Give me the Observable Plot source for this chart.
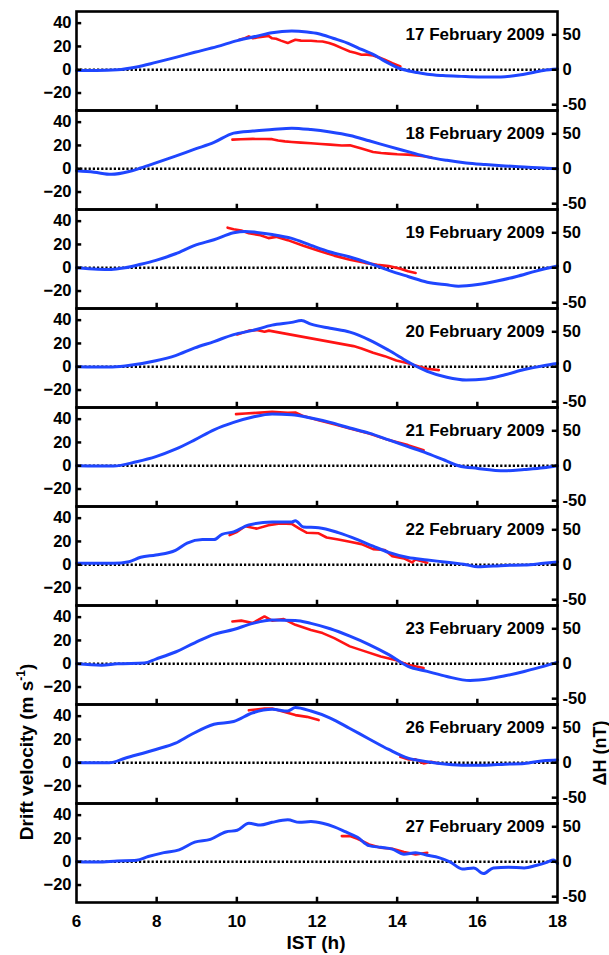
<!DOCTYPE html>
<html><head><meta charset="utf-8">
<script src="https://cdn.jsdelivr.net/npm/d3@7"></script>
<script src="https://cdn.jsdelivr.net/npm/@observablehq/plot@0.6"></script>
<style>body{margin:0;background:#fff}</style>
</head><body><div id="chart"></div>
<script>
// Panel labels
const days = ["17 February 2009","18 February 2009","19 February 2009","20 February 2009","21 February 2009","22 February 2009","23 February 2009","26 February 2009","27 February 2009"];

// ΔH (nT) series, [IST hour, nT]
const dH17 = [[6.00,-1],[6.5,-1],[7.02,0],[7.5,4],[7.98,10.5],[8.5,18],[8.95,25],[9.5,33],[10.01,41.7],[10.5,48],[10.88,53],[11.37,55.4],[11.75,54],[12.04,51.5],[12.4,45],[12.82,36.8],[13.11,29],[13.40,22],[13.7,12],[14.03,2.5],[14.17,0],[14.5,-4],[14.75,-6.4],[15.14,-8.3],[15.6,-9.5],[16.03,-10.3],[16.59,-10.3],[17.17,-6.4],[17.65,-1],[18.0,1]];
const dH18 = [[6.0,-3],[6.44,-5],[6.87,-8],[7.31,-4],[7.6,1],[7.98,8.3],[8.47,18],[8.95,28],[9.43,37.7],[9.92,51],[10.40,54],[10.88,56],[11.37,58],[11.85,56],[12.33,52.5],[12.82,47.5],[13.30,40],[13.79,32],[14.27,24.5],[14.75,17],[15.24,12],[15.72,8.3],[16.20,6],[16.69,4],[17.17,2.5],[17.65,1],[18.0,0]];
const dH19 = [[6.0,0],[6.53,-2],[6.87,-2.4],[7.21,0],[7.6,5],[7.98,10.6],[8.47,20],[8.95,32],[9.43,40],[9.92,50],[10.21,52],[10.5,50.5],[10.88,47.6],[11.37,42],[11.85,32],[12.33,22.6],[12.82,15.4],[13.30,6.7],[13.79,-3.8],[14.27,-12.5],[14.75,-20.7],[15.24,-24.5],[15.53,-26.4],[16.01,-24],[16.49,-19],[16.98,-12.5],[17.46,-4.8],[18.0,2.4]];
const dH20 = [[6.0,0],[6.82,-0.5],[7.21,1],[7.98,8.5],[8.47,16],[8.95,27],[9.43,36],[9.92,46],[10.40,52],[10.88,59.5],[11.37,63.5],[11.61,66],[11.85,61],[12.33,55],[12.82,49.5],[13.30,38.5],[13.79,23.5],[14.27,7],[14.46,1],[14.75,-6.5],[15.24,-15],[15.72,-19],[16.20,-17.5],[16.69,-11.5],[17.17,-4],[17.65,1.5],[18.0,4.5]];
const dH21 = [[6.0,0],[6.92,-0.5],[7.50,5.8],[7.98,13],[8.47,23.6],[8.95,37],[9.43,51.4],[9.92,62],[10.40,69.7],[10.88,74],[11.37,73],[11.85,68.3],[12.33,62],[12.82,54],[13.30,46.6],[13.79,37],[14.27,27.4],[14.75,17.8],[15.24,6.7],[15.53,0],[16.01,-3.8],[16.69,-7.2],[17.17,-5.3],[17.65,-2.9],[18.0,0]];
const dH22 = [[6.0,2],[6.92,2],[7.31,4.4],[7.60,10.8],[7.98,14],[8.47,20.6],[8.76,31],[9.14,36],[9.43,36],[9.63,43.6],[9.92,47],[10.30,57],[10.88,61],[11.37,61],[11.46,63],[11.66,54],[12.04,53],[12.53,46],[13.01,36],[13.40,26.5],[13.79,17.6],[14.27,10.3],[14.75,6.9],[15.24,3.4],[15.72,0],[16.01,-3],[16.69,-1],[17.17,-0.5],[17.65,2],[18.0,4]];
const dH23 = [[6.0,0],[6.63,-2],[7.02,0],[7.69,1],[7.98,6.7],[8.47,16.8],[8.95,30],[9.43,42],[9.92,49],[10.40,57.7],[10.88,62.5],[11.46,62],[11.85,57.7],[12.33,50],[12.82,39.4],[13.30,27.4],[13.79,13],[14.27,-3.8],[14.75,-11],[15.24,-18.3],[15.82,-24],[16.30,-21.6],[16.69,-17.3],[17.17,-11],[17.65,-3.8],[18.0,2.4]];
const dH26 = [[6.0,0],[6.82,0],[7.21,6.5],[7.98,19],[8.47,28],[8.85,40],[9.43,55],[9.92,59],[10.40,71.5],[10.88,76.5],[11.27,74],[11.46,79],[11.85,74],[12.33,64],[12.82,49],[13.30,34],[13.79,19],[14.27,6.5],[14.75,1.5],[15.24,-2],[15.72,-3.5],[16.20,-3.5],[16.69,-2],[17.17,-1],[17.65,3],[18.0,4]];
const dH27 = [[6.0,0],[6.53,-0.5],[7.02,1],[7.50,2],[7.79,7.4],[8.18,13],[8.56,17],[8.95,28],[9.34,32],[9.72,42.6],[10.01,45],[10.30,55],[10.59,52.5],[10.88,56.4],[11.27,60],[11.56,56.4],[11.85,57.4],[12.14,55],[12.43,50],[12.72,42.6],[13.01,35],[13.30,23],[13.59,20.6],[13.88,18],[14.17,10.8],[14.46,13],[14.75,9.3],[15.04,5.9],[15.33,-0.5],[15.62,-10.3],[15.91,-8.8],[16.15,-17],[16.40,-8.8],[16.78,-7.8],[17.17,-8.8],[17.46,-5.4],[17.75,-0.5],[17.90,2.5],[18.0,-2.5]];

// Drift velocity (m/s), [IST hour, m/s]; NaN marks a data gap
const v17 = [[10.06,25.7],[10.2,27],[10.30,28.6],[10.40,27],[10.50,27.7],[10.6,28.2],[10.79,29],[10.88,27],[10.98,26.6],[11.1,25],[11.27,22.9],[11.37,24.5],[11.46,25.7],[11.6,25],[11.85,24.9],[12.0,24.5],[12.14,24.3],[12.3,23],[12.43,21.4],[12.62,18.6],[12.82,15.7],[12.95,14.5],[13.11,12.9],[13.25,13],[13.40,12.3],[13.55,10.5],[13.69,8.6],[13.88,5.7],[14.08,2.9]];
const v18 = [[9.89,25],[10.1,25.3],[10.40,25.6],[10.7,25.5],[10.88,25.4],[11.03,24.2],[11.2,23.5],[11.37,23],[11.6,22.4],[11.85,21.9],[12.1,21.2],[12.33,20.7],[12.62,19.9],[12.82,20.2],[13.11,17.3],[13.40,14.4],[13.6,13.5],[13.79,13],[14.0,12.5],[14.27,12.1],[14.56,11.2],[14.85,9.8]];
const v19 = [[9.77,34.4],[9.92,33],[10.11,32],[10.30,29.6],[10.59,27.9],[10.79,25.4],[10.98,26.5],[11.27,23.7],[11.66,18.9],[12.04,14.6],[12.43,10.4],[12.82,6.8],[13.20,4.2],[13.50,2.5],[13.79,1.4],[14.08,-0.8],[14.27,-3.1],[14.46,-4.5]];
const v20 = [[10.01,27.7],[10.30,31],[10.5,31.5],[10.69,30],[10.8,31],[12.91,17.7],[13.11,15.7],[13.40,12],[13.69,9.1],[13.98,5.4],[14.27,2.9],[14.56,0],[14.75,-1.7],[15.04,-2.9]];
const v21 = [[9.98,44.3],[10.21,44.9],[10.50,45.4],[10.88,46.3],[11.27,45.4],[11.46,45.7],[11.66,42.6],[12.04,39.1],[12.43,35.7],[12.82,32],[13.30,27.7],[13.79,22],[14.27,17.7],[14.66,13.4]];
const v22 = [[9.82,25.4],[10.01,28.3],[10.21,33],[10.50,31],[10.79,34],[11.08,35.4],[11.37,35],[11.56,31],[11.75,27.4],[12.04,27],[12.24,23.4],[12.53,21.7],[12.82,19.7],[13.11,17.7],[13.40,13.4],[13.69,12.6],[13.88,7.4],[14.17,5.4],[14.37,2],[14.46,4.6],[14.75,1.7]];
const v23 = [[9.89,36.3],[10.11,37],[10.40,35],[10.69,40.6],[10.88,37],[11.17,38.3],[11.46,33.4],[11.85,29],[12.14,26.3],[12.43,22],[12.82,14.9],[13.20,10.6],[13.59,6.3],[13.98,2.9],[14.27,-0.9],[14.66,-3.7]];
const v26 = [[10.30,45],[10.69,46.6],[10.88,46.6],[11.17,43.7],[11.46,40.9],[11.75,39.4],[12.04,36.6],[13.0,NaN],[14.08,5.1],[14.27,2.9],[14.46,2.9],[14.66,-0.6],[14.85,0.9],[15.04,-0.6]];
const v27 = [[12.62,22],[12.82,22],[13.01,19.7],[13.30,14.9],[13.59,12],[13.88,11.1],[14.17,8.3],[14.46,6.3],[14.75,7.7]];

// Axis ticks
const xTicks = [6,8,10,12,14,16,18];
const leftTicks = [-20,0,20,40];
const rightTicks = [-50,0,50];
const nTtoV = 0.6; // 50 nT on right axis = 30 m/s on left axis

const dHByDay = [dH17,dH18,dH19,dH20,dH21,dH22,dH23,dH26,dH27];
const vByDay = [v17,v18,v19,v20,v21,v22,v23,v26,v27];
const dHRows = [], vRows = [];
days.forEach((day,i) => {
  dHByDay[i].forEach(([t,y]) => dHRows.push({day, t, y: y*nTtoV}));
  vByDay[i].forEach(([t,y]) => vRows.push({day, t, y}));
});

const font = "'Liberation Sans', Arial, sans-serif";
const chart = Plot.plot({
  width: 609, height: 955,
  marginLeft: 76, marginRight: 52, marginTop: 10, marginBottom: 53,
  style: {fontFamily: font, fontWeight: "bold", fontSize: "16.5px", color: "#000", background: "#fff", overflow: "visible"},
  x: {domain: [6,18]},
  y: {domain: [-35,50]},
  fy: {domain: days, padding: 0, axis: null},
  marks: [
    Plot.ruleY([0], {stroke: "#000", strokeWidth: 2.4, strokeDasharray: "2.2,2"}),
    Plot.lineY(vRows, {x: "t", y: "y", fy: "day", stroke: "#ff1414", strokeWidth: 2.6}),
    Plot.lineY(dHRows, {x: "t", y: "y", fy: "day", stroke: "#1f46ff", strokeWidth: 3, curve: "monotone-x"}),
    Plot.ruleY(leftTicks, {y: d => d, x1: 6, x2: 6.13, stroke: "#000", strokeWidth: 2.5}),
    Plot.ruleY(rightTicks, {y: d => d*nTtoV, x1: 17.87, x2: 18, stroke: "#000", strokeWidth: 2.5}),
    Plot.ruleX(xTicks.slice(1,-1), {x: d => d, y1: -35, y2: -30.5, stroke: "#000", strokeWidth: 2.5}),
    Plot.axisY({ticks: leftTicks, tickSize: 0, tickPadding: 5, label: null}),
    Plot.axisY(rightTicks.map(d => d*nTtoV), {anchor: "right", tickFormat: d => Math.round(d/nTtoV), tickSize: 0, tickPadding: 5, label: null}),
    Plot.axisX({ticks: xTicks, tickSize: 0, tickPadding: 12, label: null, facetAnchor: "bottom", fontSize: 17}),
    Plot.text(days, {fy: d => d, x: 18, y: 50*nTtoV, text: d => d, dx: -13, textAnchor: "end", fontSize: 17, fontWeight: "bold"}),
    Plot.frame({stroke: "#000", strokeWidth: 2.6})
  ]
});
document.getElementById("chart").appendChild(chart);

const svg = d3.select(chart);
const yl = svg.append("text").attr("transform", "translate(33,752) rotate(-90)")
  .attr("text-anchor", "middle").attr("font-family", font).attr("font-weight", "bold").attr("font-size", 19).attr("fill", "#000");
yl.append("tspan").text("Drift velocity (m s");
yl.append("tspan").attr("dy", -8).attr("font-size", 12).text("-1");
yl.append("tspan").attr("dy", 8).text(")");
svg.append("text").attr("transform", "translate(606,753) rotate(-90)")
  .attr("text-anchor", "middle").attr("font-family", font).attr("font-weight", "bold").attr("font-size", 18).attr("fill", "#000")
  .text("ΔH (nT)");
svg.append("text").attr("x", 316).attr("y", 949)
  .attr("text-anchor", "middle").attr("font-family", font).attr("font-weight", "bold").attr("font-size", 19).attr("fill", "#000")
  .text("IST (h)");
</script></body></html>
